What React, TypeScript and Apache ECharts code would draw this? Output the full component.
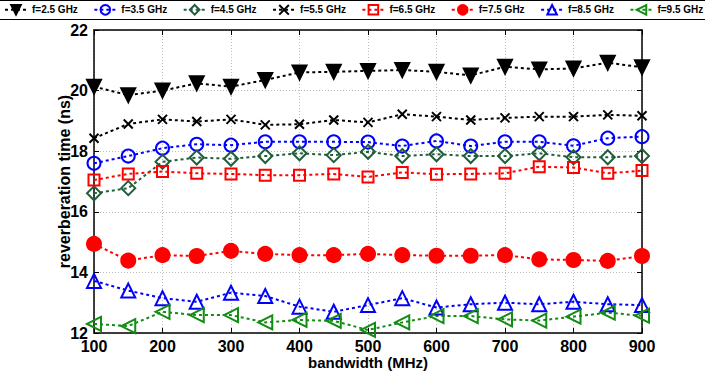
import React, { useEffect, useRef } from "react";
import * as echarts from "echarts";

const bandwidth = [100, 150, 200, 250, 300, 350, 400, 450, 500, 550, 600, 650, 700, 750, 800, 850, 900];
const f25 = [20.13, 19.85, 20.0, 20.24, 20.13, 20.35, 20.6, 20.62, 20.65, 20.68, 20.62, 20.5, 20.79, 20.7, 20.73, 20.92, 20.77];
const f35 = [17.6, 17.84, 18.1, 18.23, 18.2, 18.31, 18.31, 18.31, 18.3, 18.17, 18.34, 18.17, 18.31, 18.31, 18.18, 18.43, 18.48];
const f45 = [16.61, 16.78, 17.65, 17.79, 17.75, 17.84, 17.93, 17.87, 17.98, 17.84, 17.9, 17.84, 17.84, 17.93, 17.8, 17.8, 17.84];
const f55 = [18.43, 18.9, 19.05, 18.98, 19.05, 18.87, 18.89, 19.03, 18.95, 19.22, 19.14, 19.03, 19.1, 19.14, 19.14, 19.2, 19.17];
const f65 = [17.05, 17.25, 17.33, 17.27, 17.25, 17.21, 17.21, 17.25, 17.15, 17.3, 17.24, 17.25, 17.27, 17.49, 17.46, 17.27, 17.36];
const f75 = [14.94, 14.39, 14.57, 14.54, 14.71, 14.61, 14.57, 14.57, 14.61, 14.57, 14.55, 14.55, 14.57, 14.43, 14.41, 14.38, 14.54];
const f85 = [13.72, 13.4, 13.15, 13.03, 13.33, 13.22, 12.87, 12.7, 12.92, 13.15, 12.84, 12.95, 13.0, 12.95, 13.03, 12.95, 12.92];
const f95 = [12.3, 12.23, 12.7, 12.59, 12.59, 12.35, 12.43, 12.4, 12.1, 12.35, 12.56, 12.56, 12.45, 12.41, 12.54, 12.67, 12.57];
const yTicks = [12, 14, 16, 18, 20, 22];
const xTicks = [100, 200, 300, 400, 500, 600, 700, 800, 900];
const legendNames = ["f=2.5 GHz", "f=3.5 GHz", "f=4.5 GHz", "f=5.5 GHz", "f=6.5 GHz", "f=7.5 GHz", "f=8.5 GHz", "f=9.5 GHz"];

const FONT = "'Liberation Sans', Arial, sans-serif";
const XMARK = "path://M0,0L10,10M0,10L10,0";

function mk(name: string, vals: number[], color: string, symbol: string, size: number, rotate: number, filled: boolean) {
  return {
    type: "line",
    name,
    data: bandwidth.map((b, i) => [b, vals[i]]),
    symbol,
    symbolSize: size,
    symbolRotate: rotate,
    lineStyle: { color, width: 2, type: [3, 3] },
    itemStyle: { color: filled ? color : "rgba(255,255,255,0)", borderColor: color, borderWidth: 2 },
    emphasis: { disabled: true },
  };
}

export default function App() {
  const ref = useRef<HTMLDivElement>(null);
  useEffect(() => {
    const chart = echarts.init(ref.current!, null, { renderer: "svg" });
    const axisCommon = {
      axisLine: { show: true, lineStyle: { color: "#000", width: 1.5 } },
      axisTick: { show: true, inside: true, length: 5, lineStyle: { color: "#000", width: 1 } },
    };
    chart.setOption({
      animation: false,
      backgroundColor: "#fff",
      graphic: [
        { type: "rect", shape: { x: -2, y: 0.5, width: 709, height: 19 }, style: { fill: "none", stroke: "#000", lineWidth: 1 }, z: -1 },
      ],
      legend: {
        left: 4,
        top: 4,
        width: 760,
        padding: 0,
        itemWidth: 22,
        itemHeight: 12,
        itemGap: 15.5,
        textStyle: { fontFamily: FONT, fontWeight: "bold", fontSize: 10, color: "#000" },
        data: legendNames,
      },
      grid: { left: 94, right: 63, top: 30, bottom: 41, outerBoundsMode: "none", containLabel: false },
      xAxis: [
        {
          type: "value",
          min: xTicks[0],
          max: xTicks[xTicks.length - 1],
          interval: 100,
          ...axisCommon,
          axisLabel: { fontFamily: FONT, fontWeight: "bold", fontSize: 16, color: "#000", margin: 5 },
          splitLine: { show: true, lineStyle: { color: "#bbb", type: [1, 2], width: 1 } },
          name: "bandwidth (MHz)",
          nameLocation: "middle",
          nameGap: 22,
          nameMoveOverlap: false,
          nameTextStyle: { fontFamily: FONT, fontWeight: "bold", fontSize: 15, color: "#000" },
        },
        {
          type: "value",
          position: "top",
          min: xTicks[0],
          max: xTicks[xTicks.length - 1],
          interval: 100,
          ...axisCommon,
          axisLabel: { show: false },
          splitLine: { show: false },
        },
      ],
      yAxis: [
        {
          type: "value",
          min: yTicks[0],
          max: yTicks[yTicks.length - 1],
          interval: 2,
          ...axisCommon,
          axisLabel: { fontFamily: FONT, fontWeight: "bold", fontSize: 16, color: "#000", margin: 6 },
          splitLine: { show: true, lineStyle: { color: "#bbb", type: [1, 2], width: 1 } },
          name: "reverberation time (ns)",
          nameLocation: "middle",
          nameGap: 22,
          nameMoveOverlap: false,
          nameTextStyle: { fontFamily: FONT, fontWeight: "bold", fontSize: 16, color: "#000" },
        },
        {
          type: "value",
          position: "right",
          min: yTicks[0],
          max: yTicks[yTicks.length - 1],
          interval: 2,
          ...axisCommon,
          axisLabel: { show: false },
          splitLine: { show: false },
        },
      ],
      series: [
        mk(legendNames[0], f25, "#000000", "triangle", 14, 180, true),
        mk(legendNames[1], f35, "#0000ff", "circle", 13, 0, false),
        mk(legendNames[2], f45, "#215e3c", "diamond", 14, 0, false),
        mk(legendNames[3], f55, "#000000", XMARK, 9, 0, true),
        mk(legendNames[4], f65, "#ff0000", "rect", 11, 0, false),
        mk(legendNames[5], f75, "#ff0000", "circle", 14, 0, true),
        mk(legendNames[6], f85, "#0000ff", "triangle", 14, 0, false),
        mk(legendNames[7], f95, "#128c12", "triangle", 14, 90, false),
      ],
    });
    return () => chart.dispose();
  }, []);
  return <div ref={ref} style={{ width: 705, height: 374, position: "absolute", left: 0, top: 0 }} />;
}
